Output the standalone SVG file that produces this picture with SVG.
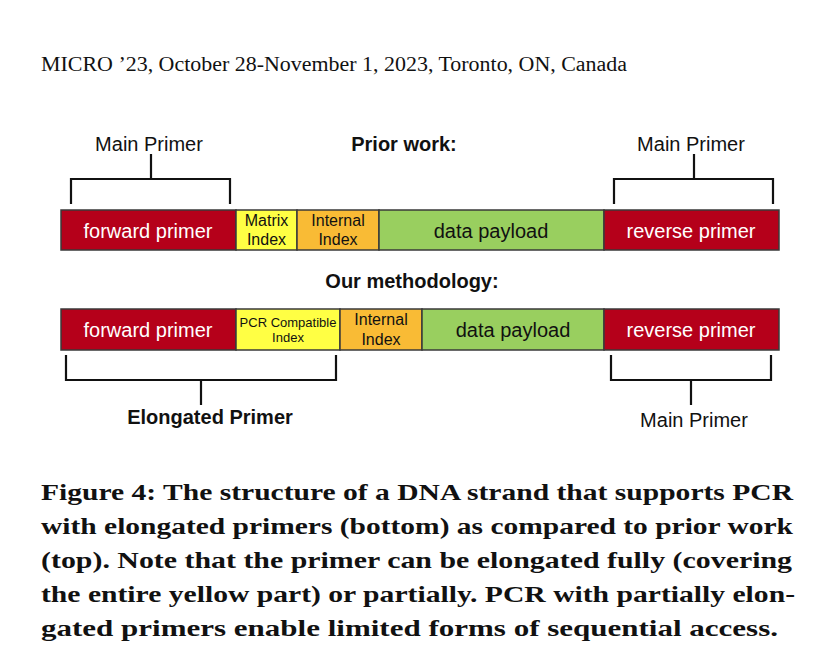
<svg xmlns="http://www.w3.org/2000/svg" width="823" height="667" viewBox="0 0 823 667">
<style>
.seg{stroke:#3a3a3a;stroke-width:1.5}
.red{fill:#b5001a}.yel{fill:#ffff44}.org{fill:#f9bb35}.grn{fill:#99cf5f}
.big{font-family:"Liberation Sans",Arial,sans-serif;font-size:20px;text-anchor:middle}
.sm{font-family:"Liberation Sans",Arial,sans-serif;font-size:16px;text-anchor:middle;fill:#111}
.xs{font-family:"Liberation Sans",Arial,sans-serif;font-size:13px;text-anchor:middle;fill:#111}
.w{fill:#fff}.k{fill:#111}
.b{font-weight:bold}
.br{fill:none;stroke:#111;stroke-width:2.2}
.cap{font-family:"Liberation Serif","Times New Roman",serif;font-weight:bold;font-size:24px;fill:#111}
.hdr{font-family:"Liberation Serif","Times New Roman",serif;font-size:20px;fill:#111}
</style>
<rect width="823" height="667" fill="#fff"/>
<text class="hdr" x="41" y="71" textLength="586" lengthAdjust="spacingAndGlyphs">MICRO ’23, October 28-November 1, 2023, Toronto, ON, Canada</text>

<g id="prior-title"><text class="big b k" x="404" y="151">Prior work:</text></g>

<g id="prior-forward"><rect class="seg red" x="61" y="210" width="175" height="40"/><text class="big w" x="148" y="238">forward primer</text></g>
<g id="prior-matrix"><rect class="seg yel" x="236" y="210" width="61" height="40"/><text class="sm" x="266.5" y="226">Matrix</text><text class="sm" x="266.5" y="245">Index</text></g>
<g id="prior-internal"><rect class="seg org" x="297" y="210" width="82" height="40"/><text class="sm" x="338" y="226">Internal</text><text class="sm" x="338" y="245">Index</text></g>
<g id="prior-data"><rect class="seg grn" x="379" y="210" width="225" height="40"/><text class="big k" x="491" y="238">data payload</text></g>
<g id="prior-reverse"><rect class="seg red" x="604" y="210" width="175" height="40"/><text class="big w" x="691" y="238">reverse primer</text></g>

<g id="our-title"><text class="big b k" x="412" y="288">Our methodology:</text></g>

<g id="our-forward"><rect class="seg red" x="61" y="309" width="175" height="41"/><text class="big w" x="148" y="337">forward primer</text></g>
<g id="our-pcr"><rect class="seg yel" x="236" y="309" width="104" height="41"/><text class="xs" x="288" y="327">PCR Compatible</text><text class="xs" x="288" y="342">Index</text></g>
<g id="our-internal"><rect class="seg org" x="340" y="309" width="82" height="41"/><text class="sm" x="381" y="325">Internal</text><text class="sm" x="381" y="345">Index</text></g>
<g id="our-data"><rect class="seg grn" x="422" y="309" width="182" height="41"/><text class="big k" x="513" y="337">data payload</text></g>
<g id="our-reverse"><rect class="seg red" x="604" y="309" width="175" height="41"/><text class="big w" x="691" y="337">reverse primer</text></g>

<g id="connectors">
<path class="br" d="M71 204V179H230V204M151 179V154"/>
<path class="br" d="M614 204V179H773V204M694 179V154"/>
<path class="br" d="M66 355V380H336V355M201 380V405"/>
<path class="br" d="M611 355V380H771V355M691 380V405"/>
</g>

<g id="label-main-top-left"><text class="big k" x="149" y="151">Main Primer</text></g>
<g id="label-main-top-right"><text class="big k" x="691" y="151">Main Primer</text></g>
<g id="label-elongated"><text class="big b k" x="210" y="424">Elongated Primer</text></g>
<g id="label-main-bottom"><text class="big k" x="694" y="427">Main Primer</text></g>

<g id="caption">
<text class="cap" x="41" y="500" textLength="752" lengthAdjust="spacingAndGlyphs">Figure 4: The structure of a DNA strand that supports PCR</text>
<text class="cap" x="41" y="534" textLength="752" lengthAdjust="spacingAndGlyphs">with elongated primers (bottom) as compared to prior work</text>
<text class="cap" x="41" y="568" textLength="751" lengthAdjust="spacingAndGlyphs">(top). Note that the primer can be elongated fully (covering</text>
<text class="cap" x="41" y="602" textLength="754" lengthAdjust="spacingAndGlyphs">the entire yellow part) or partially. PCR with partially elon-</text>
<text class="cap" x="41" y="636" textLength="737" lengthAdjust="spacingAndGlyphs">gated primers enable limited forms of sequential access.</text>
</g>
</svg>
